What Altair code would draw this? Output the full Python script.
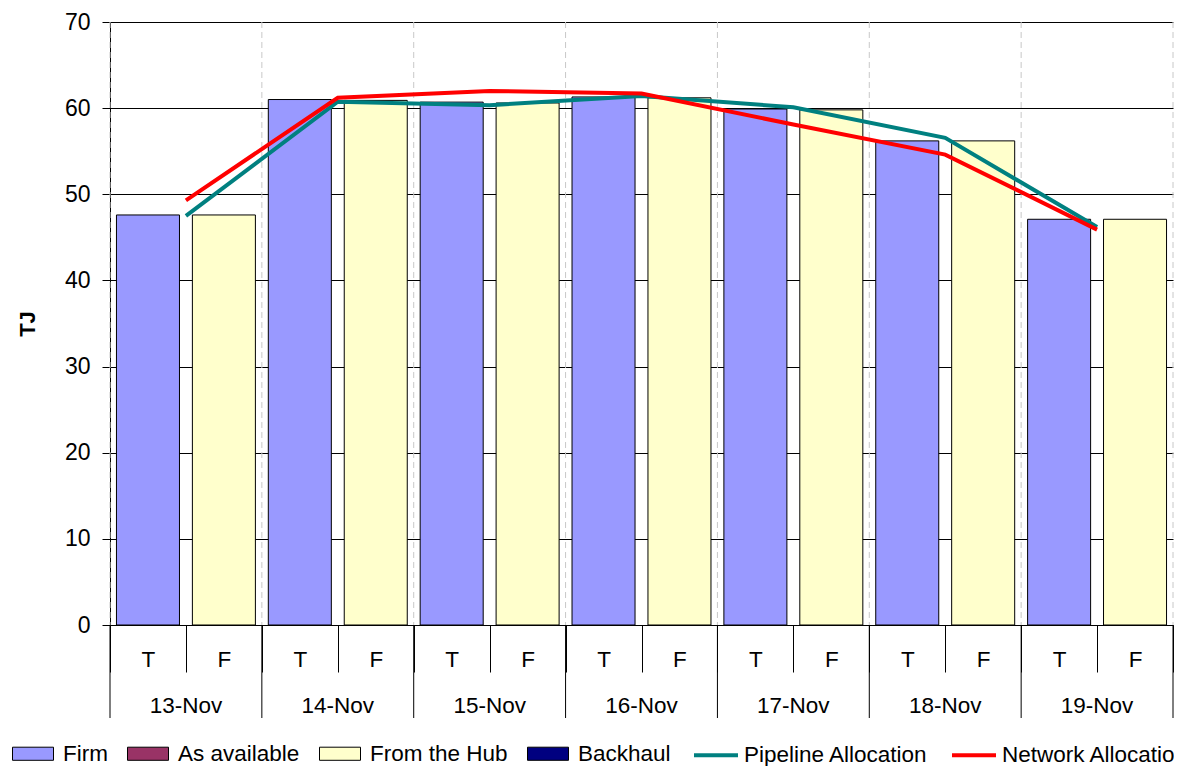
import altair as alt
import pandas as pd

days = ["13-Nov", "14-Nov", "15-Nov", "16-Nov", "17-Nov", "18-Nov", "19-Nov"]
slots = ["T", "F"]
firm = [47.6, 61.0, 60.7, 61.3, 59.9, 56.2, 47.1]
from_hub = [47.6, 60.9, 60.6, 61.2, 59.8, 56.2, 47.1]
pipeline = [47.5, 60.75, 60.35, 61.4, 60.1, 56.55, 46.2]
network = [49.3, 61.2, 62.0, 61.7, 58.1, 54.6, 45.9]

bar_series = ["Firm", "As available", "From the Hub", "Backhaul"]
bar_colors = ["#9999FF", "#993366", "#FFFFCC", "#000080"]
line_series = ["Pipeline Allocation", "Network Allocation"]
line_colors = ["#008080", "#FF0000"]

cats = [f"{d} {s}" for d in days for s in slots]

bars_df = pd.DataFrame(
    [{"cat": f"{d} T", "value": firm[i], "bar_series": "Firm"} for i, d in enumerate(days)]
    + [{"cat": f"{d} F", "value": from_hub[i], "bar_series": "From the Hub"} for i, d in enumerate(days)]
)
lines_df = pd.DataFrame(
    [{"cat": f"{d} F", "value": pipeline[i], "line_series": "Pipeline Allocation", "o": i} for i, d in enumerate(days)]
    + [{"cat": f"{d} F", "value": network[i], "line_series": "Network Allocation", "o": i} for i, d in enumerate(days)]
)
day_df = pd.DataFrame({"cat": [f"{d} F" for d in days], "label": days})
start_df = pd.DataFrame({"cat": [f"{d} T" for d in days]})
end_df = pd.DataFrame({"cat": [f"{days[-1]} F"]})

FONT = "Liberation Sans"
FS = 22.5
W, H = 1063, 603

xscale = alt.Scale(domain=cats, paddingInner=0, paddingOuter=0)
xaxis = alt.Axis(
    title=None, labelExpr="split(datum.label, ' ')[1]", tickBand="extent",
    tickSize=47, tickColor="black", domainColor="black", labelPadding=-13,
    labelBaseline="middle", labelFontSize=FS, labelAngle=0, grid=False,
    labelColor="black", labelFont=FONT,
)


def X(band=0.5):
    return alt.X("cat:N", scale=xscale, axis=xaxis, sort=cats, bandPosition=band)


yscale = alt.Scale(domain=[0, 70], nice=False, zero=True)
yaxis = alt.Axis(
    title="TJ", values=list(range(0, 71, 10)), grid=True, gridColor="black",
    gridWidth=1, tickColor="black", tickSize=8, domainColor="black",
    labelFontSize=23, labelColor="black", labelPadding=12, labelFont=FONT,
    titleFontSize=22, titleFontWeight="bold", titleColor="black", titleFont=FONT,
    titlePadding=25,
)

grid_start = alt.Chart(start_df).mark_rule(color="#c8c8c8", strokeDash=[6, 4], strokeWidth=1).encode(
    x=X(0), y=alt.value(0), y2=alt.value(H))
grid_end = alt.Chart(end_df).mark_rule(color="#c8c8c8", strokeDash=[6, 4], strokeWidth=1).encode(
    x=X(1), y=alt.value(0), y2=alt.value(H))

sep_start = alt.Chart(start_df).mark_rule(color="black", strokeWidth=1).encode(
    x=X(0), y=alt.value(H), y2=alt.value(H + 93))
sep_end = alt.Chart(end_df).mark_rule(color="black", strokeWidth=1).encode(
    x=X(1), y=alt.value(H), y2=alt.value(H + 93))

bars = alt.Chart(bars_df).mark_bar(
    width=alt.RelativeBandSize(0.83), stroke="black", strokeWidth=1
).encode(
    x=X(0.5),
    y=alt.Y("value:Q", scale=yscale, axis=yaxis, stack=None),
    fill=alt.Fill(
        "bar_series:N",
        scale=alt.Scale(domain=bar_series, range=bar_colors),
        legend=alt.Legend(
            title=None, orient="none", legendX=-98, legendY=710.5,
            direction="horizontal", columns=4,
            symbolType="M-1,-0.32H1V0.32H-1Z", symbolSize=1681,
            symbolStrokeColor="black", symbolStrokeWidth=1, symbolOpacity=1,
            labelFontSize=FS, labelFont=FONT, labelColor="black", labelLimit=400,
            labelOffset=9, columnPadding=17, padding=0,
        ),
    ),
)

lines = alt.Chart(lines_df).mark_line(strokeWidth=4).encode(
    x=X(0),
    y=alt.Y("value:Q", scale=yscale, axis=yaxis),
    order="o:Q",
    stroke=alt.Stroke(
        "line_series:N",
        scale=alt.Scale(domain=line_series, range=line_colors),
        legend=alt.Legend(
            title=None, orient="none", legendX=582, legendY=709,
            direction="horizontal", columns=2,
            symbolType="stroke", symbolSize=1936, symbolStrokeWidth=4,
            labelFontSize=FS, labelFont=FONT, labelColor="black", labelLimit=400,
            labelOffset=4, columnPadding=16, padding=0,
        ),
    ),
)

day_labels = alt.Chart(day_df).mark_text(
    fontSize=FS, font=FONT, color="black", baseline="middle", align="center"
).encode(x=X(0), y=alt.value(H + 81), text="label:N")

chart = alt.layer(
    grid_start, grid_end, bars, lines, sep_start, sep_end, day_labels
).resolve_scale(fill="independent", stroke="independent").properties(
    width=W, height=H,
    autosize=alt.AutoSizeParams(type="none"),
    padding={"left": 102, "top": 14, "right": 1, "bottom": 141},
).configure(font=FONT).configure_view(stroke=None)

chart.save("out.html", embed_options={"renderer": "svg", "actions": False})
